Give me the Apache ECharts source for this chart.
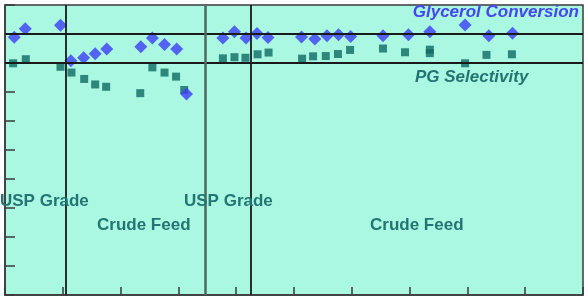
<!DOCTYPE html>
<html>
<head>
<meta charset="utf-8">
<script src="https://cdn.jsdelivr.net/npm/echarts@6/dist/echarts.min.js"></script>
<style>
html,body{margin:0;padding:0;background:#fff;}
#main{width:588px;height:300px;}
</style>
</head>
<body>
<div id="main"></div>
<script>
// 甘油转化率 (菱形)
var convX = [0.16,0.35,0.96,1.14,1.36,1.56,1.76,2.35,2.55,2.76,2.97,3.14,3.77,3.97,4.17,4.36,4.55,5.13,5.36,5.57,5.77,5.98,6.54,6.98,7.35,7.96,8.37,8.78];
var convY = [88.9,91.8,93.0,80.8,81.8,83.2,84.8,85.6,88.6,86.4,84.8,69.3,88.6,90.8,88.6,90.2,88.8,89.0,88.3,89.4,89.7,89.1,89.4,89.7,90.8,93.1,89.4,90.3];
// PG选择性 (方块)
var selX = [0.14,0.36,0.96,1.15,1.37,1.56,1.75,2.34,2.55,2.76,2.96,3.10,3.77,3.97,4.16,4.37,4.56,5.14,5.33,5.55,5.76,5.97,6.54,6.92,7.35,7.35,7.96,8.33,8.77];
var selY = [79.9,81.3,78.7,76.7,74.5,72.6,71.8,69.6,78.5,76.7,75.3,70.7,81.6,82.0,81.8,83.0,83.6,81.5,82.3,82.4,83.1,84.5,85.0,83.7,84.6,83.4,79.9,82.8,83.0];
// 参考线
var hLines = [90, 80];
var vLines = [1.055, 4.26];
var vLineGray = 3.46;

function pairs(xs, ys) {
    var out = [];
    for (var i = 0; i < xs.length; i++) {
        out.push([xs[i], ys[i]]);
    }
    return out;
}

var myChart = echarts.init(document.getElementById('main'));

var lineMarks = [];
for (var i = 0; i < hLines.length; i++) {
    lineMarks.push({yAxis: hLines[i], lineStyle: {color: '#1a1a1a', width: 2, type: 'solid'}});
}
for (var j = 0; j < vLines.length; j++) {
    lineMarks.push({xAxis: vLines[j], lineStyle: {color: '#1a1a1a', width: 1.8, type: 'solid'}});
}
lineMarks.push({xAxis: vLineGray, lineStyle: {color: '#4f6a60', width: 2.5, type: 'solid'}});

var txtFont = 'bold 17px "Liberation Sans", Arial, sans-serif';
var txtFontIt = 'italic bold 17px "Liberation Sans", Arial, sans-serif';
var teal = '#237573';

option = {
    animation: false,
    backgroundColor: '#ffffff',
    grid: {
        left: 5, right: 5, top: 5, bottom: 5,
        show: true,
        backgroundColor: '#aaf8e1',
        borderColor: '#3a3a3a',
        borderWidth: 1.5
    },
    xAxis: {
        type: 'value',
        min: 0, max: 10, interval: 1,
        axisLine: {show: true, lineStyle: {color: '#3a3a3a', width: 1.5}},
        axisTick: {show: true, inside: true, length: 8, lineStyle: {color: '#3a3a3a', width: 1.5}},
        axisLabel: {show: false},
        splitLine: {show: false}
    },
    yAxis: {
        type: 'value',
        min: 0, max: 100, interval: 10,
        axisLine: {show: true, lineStyle: {color: '#3a3a3a', width: 1.5}},
        axisTick: {show: true, inside: true, length: 10, lineStyle: {color: '#3a3a3a', width: 1.5}},
        axisLabel: {show: false},
        splitLine: {show: false}
    },
    series: [{
        name: 'PG Selectivity',
        type: 'scatter',
        symbol: 'rect',
        symbolSize: 8,
        itemStyle: {color: '#0f6a64'},
        data: pairs(selX, selY),
        z: 3,
        markLine: {
            silent: true,
            symbol: 'none',
            label: {show: false},
            data: lineMarks
        }
    }, {
        name: 'Glycerol Conversion',
        type: 'scatter',
        symbol: 'diamond',
        symbolSize: 13,
        itemStyle: {color: '#3d3df5'},
        data: pairs(convX, convY),
        z: 4
    }],
    graphic: [
        {type: 'text', right: 9, top: 4, z: 10, style: {text: 'Glycerol Conversion', fill: '#4646f0', font: txtFontIt}},
        {type: 'text', left: 415, top: 69, z: 10, style: {text: 'PG Selectivity', fill: teal, font: txtFontIt}},
        {type: 'text', left: 0, top: 193, z: 10, style: {text: 'USP Grade', fill: teal, font: txtFont}},
        {type: 'text', left: 97, top: 217, z: 10, style: {text: 'Crude Feed', fill: teal, font: txtFont}},
        {type: 'text', left: 184, top: 193, z: 10, style: {text: 'USP Grade', fill: teal, font: txtFont}},
        {type: 'text', left: 370, top: 217, z: 10, style: {text: 'Crude Feed', fill: teal, font: txtFont}}
    ]
};

myChart.setOption(option);
</script>
</body>
</html>
